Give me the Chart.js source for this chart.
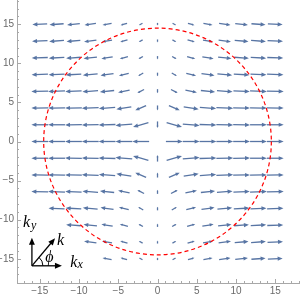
<!DOCTYPE html>
<html>
<head>
<meta charset="utf-8">
<script src="https://cdn.jsdelivr.net/npm/chart.js@4.4.0/dist/chart.umd.min.js"></script>
<style>
  html, body { margin: 0; padding: 0; background: #fff; }
  canvas { display: block; }
</style>
</head>
<body>
<canvas id="fieldChart" width="300" height="298"></canvas>
<script>
// grid of the vector plot: 15 x 15 points from -15 to 15
const gridValues = [-15, -12.86, -10.71, -8.57, -6.43, -4.29, -2.14, 0, 2.14, 4.29, 6.43, 8.57, 10.71, 12.86, 15];
const gridStep = 30 / 14;

// arrow lengths (in grid steps) read off the upper right quadrant,
// the picture is mirror symmetric in both axes
// rows: y = 0, 2.14, ... 15   columns: x = 0, 2.14, ... 15
const arrowLength = [
  [0,    1,    1,    1,    1,    1,    1,    1],
  [0.4,  0.95, 1,    1,    1,    1,    1,    1],
  [0.3,  0.7,  0.9,  0.97, 1,    1,    1,    1],
  [0.25, 0.45, 0.7,  0.85, 0.93, 0.97, 1,    1],
  [0.22, 0.35, 0.6,  0.78, 0.88, 0.93, 0.95, 0.97],
  [0.2,  0.3,  0.5,  0.68, 0.8,  0.87, 0.92, 0.95],
  [0.18, 0.26, 0.45, 0.6,  0.74, 0.82, 0.88, 0.92],
  [0.16, 0.24, 0.4,  0.55, 0.68, 0.76, 0.84, 0.88]
];
// tilt of each arrow from the horizontal, in degrees, towards the x axis
const arrowTilt = [
  [0,  0,  0,  0,  0, 0, 0, 0],
  [90, 16, 5,  2,  1, 1, 0, 0],
  [90, 24, 9,  4,  2, 1, 1, 1],
  [90, 28, 12, 6,  4, 2, 2, 1],
  [90, 30, 14, 8,  5, 3, 2, 2],
  [90, 30, 15, 9,  6, 4, 3, 2],
  [90, 30, 16, 10, 7, 5, 4, 3],
  [90, 30, 17, 11, 8, 6, 4, 3]
];
// no arrows in the lower left corner: [x index, y index] into gridValues
const hiddenCells = [[0, 3], [0, 2], [1, 2], [0, 1], [1, 1], [2, 1], [0, 0], [1, 0], [2, 0], [3, 0]];

const circleRadius = 14.5;
const tickValues = [-15, -10, -5, 0, 5, 10, 15];
const minorTickValues = [-17, -16, -14, -13, -12, -11, -9, -8, -7, -6, -4, -3, -2, -1,
  1, 2, 3, 4, 6, 7, 8, 9, 11, 12, 13, 14, 16, 17, 18];

const arrowColor = "rgb(88, 117, 164)";
const axisColor = "#a8a8a8";
const labelColor = "#6a6a6a";

const points = [];
gridValues.forEach((y, yi) => {
  gridValues.forEach((x, xi) => {
    if (hiddenCells.some((c) => c[0] === xi && c[1] === yi)) return;
    const qx = Math.abs(xi - 7);
    const qy = Math.abs(yi - 7);
    const len = arrowLength[qy][qx];
    if (!len) return;
    const a = (arrowTilt[qy][qx] * Math.PI) / 180;
    points.push({
      x: x,
      y: y,
      u: Math.sign(x) * Math.cos(a) * len * gridStep,
      v: -Math.sign(y) * Math.sin(a) * len * gridStep,
    });
  });
});

function drawArrow(ctx, x0, y0, x1, y1, maxHead) {
  const dx = x1 - x0, dy = y1 - y0;
  const len = Math.hypot(dx, dy);
  if (len < 0.5) return;
  const ux = dx / len, uy = dy / len;
  const head = Math.min(maxHead, len * 0.35);
  const half = head * 0.42;
  ctx.beginPath();
  ctx.moveTo(x0, y0);
  ctx.lineTo(x1 - ux * head * 0.7, y1 - uy * head * 0.7);
  ctx.stroke();
  ctx.beginPath();
  ctx.moveTo(x1, y1);
  ctx.lineTo(x1 - ux * head - uy * half, y1 - uy * head + ux * half);
  ctx.lineTo(x1 - ux * head + uy * half, y1 - uy * head - ux * half);
  ctx.closePath();
  ctx.fill();
}

const arrowPlugin = {
  id: "arrows",
  afterDatasetsDraw(chart) {
    const { ctx } = chart;
    const xs = chart.scales.x, ys = chart.scales.y;
    ctx.save();
    ctx.strokeStyle = arrowColor;
    ctx.fillStyle = arrowColor;
    ctx.lineWidth = 1.3;
    chart.data.datasets[0].data.forEach((p) => {
      drawArrow(ctx,
        xs.getPixelForValue(p.x - p.u / 2), ys.getPixelForValue(p.y - p.v / 2),
        xs.getPixelForValue(p.x + p.u / 2), ys.getPixelForValue(p.y + p.v / 2), 5);
    });

    // dashed circle
    const cx = xs.getPixelForValue(0), cy = ys.getPixelForValue(0);
    const rx = xs.getPixelForValue(circleRadius) - cx;
    const ry = cy - ys.getPixelForValue(circleRadius);
    ctx.strokeStyle = "#ff0000";
    ctx.lineWidth = 1.2;
    ctx.setLineDash([4, 3]);
    ctx.beginPath();
    ctx.ellipse(cx, cy, rx, ry, 0, 0, Math.PI * 2);
    ctx.stroke();
    ctx.setLineDash([]);

    // small k-space sketch in the lower left corner
    const ox = xs.getPixelForValue(-16.0), oy = ys.getPixelForValue(-15.9);
    const ang = (50 * Math.PI) / 180;
    ctx.strokeStyle = "#000";
    ctx.fillStyle = "#000";
    ctx.lineWidth = 1.3;
    drawArrow(ctx, ox, oy, ox, oy - 28, 7);
    drawArrow(ctx, ox, oy, ox + 30, oy, 7);
    drawArrow(ctx, ox, oy, ox + 36 * Math.cos(ang), oy - 36 * Math.sin(ang), 7);
    ctx.lineWidth = 1;
    ctx.beginPath();
    ctx.arc(ox, oy, 11, -ang, 0);
    ctx.stroke();
    ctx.font = "italic 16px 'Liberation Serif', serif";
    ctx.textBaseline = "alphabetic";
    ctx.fillText("k", ox - 9, oy - 38.5);
    ctx.fillText("k", ox + 25, oy - 20.7);
    ctx.fillText("\u03d5", ox + 13.3, oy - 3.5);
    ctx.fillText("k", ox + 38.3, oy + 1);
    ctx.font = "italic 12px 'Liberation Serif', serif";
    ctx.fillText("y", ox - 1, oy - 36.5);
    ctx.fillText("x", ox + 45.5, oy + 2.5);

    // ticks pointing into the plot
    ctx.strokeStyle = axisColor;
    ctx.lineWidth = 1;
    const left = chart.chartArea.left, bottom = chart.chartArea.bottom;
    ctx.beginPath();
    tickValues.concat(minorTickValues).forEach((t) => {
      const size = tickValues.includes(t) ? 4 : 2;
      const px = Math.round(xs.getPixelForValue(t)) + 0.5;
      ctx.moveTo(px, bottom);
      ctx.lineTo(px, bottom - size);
      const py = Math.round(ys.getPixelForValue(t)) + 0.5;
      ctx.moveTo(left, py);
      ctx.lineTo(left + size, py);
    });
    ctx.stroke();
    ctx.restore();
  },
};

const formatTick = (v) => (v < 0 ? "\u2212" + Math.abs(v) : String(v));
const setTicks = (scale) => {
  scale.ticks = tickValues.map((v) => ({ value: v }));
};
const noPadding = (s) => {
  s.paddingTop = 0;
  s.paddingBottom = 0;
  s.paddingLeft = 0;
  s.paddingRight = 0;
};

new Chart(document.getElementById("fieldChart").getContext("2d"), {
  type: "scatter",
  data: {
    datasets: [{ data: points, pointRadius: 0, showLine: false }],
  },
  options: {
    responsive: false,
    animation: false,
    layout: { padding: 0 },
    plugins: { legend: { display: false }, tooltip: { enabled: false } },
    scales: {
      x: {
        type: "linear",
        min: -17.9,
        max: 18.15,
        afterBuildTicks: setTicks,
        afterFit: (s) => { s.height = 15; noPadding(s); },
        grid: { display: true, drawOnChartArea: false, drawTicks: false },
        border: { display: true, color: axisColor, width: 1 },
        ticks: {
          padding: 2,
          color: labelColor,
          font: { family: "'Liberation Sans', sans-serif", size: 10 },
          callback: formatTick,
          maxRotation: 0,
          autoSkip: false,
        },
      },
      y: {
        type: "linear",
        min: -18.1,
        max: 18.1,
        afterBuildTicks: setTicks,
        afterFit: (s) => { s.width = 17; noPadding(s); },
        grid: { display: true, drawOnChartArea: false, drawTicks: false },
        border: { display: true, color: axisColor, width: 1 },
        ticks: {
          padding: 3,
          color: labelColor,
          font: { family: "'Liberation Sans', sans-serif", size: 10 },
          callback: formatTick,
          autoSkip: false,
        },
      },
    },
  },
  plugins: [arrowPlugin],
});
</script>
</body>
</html>
